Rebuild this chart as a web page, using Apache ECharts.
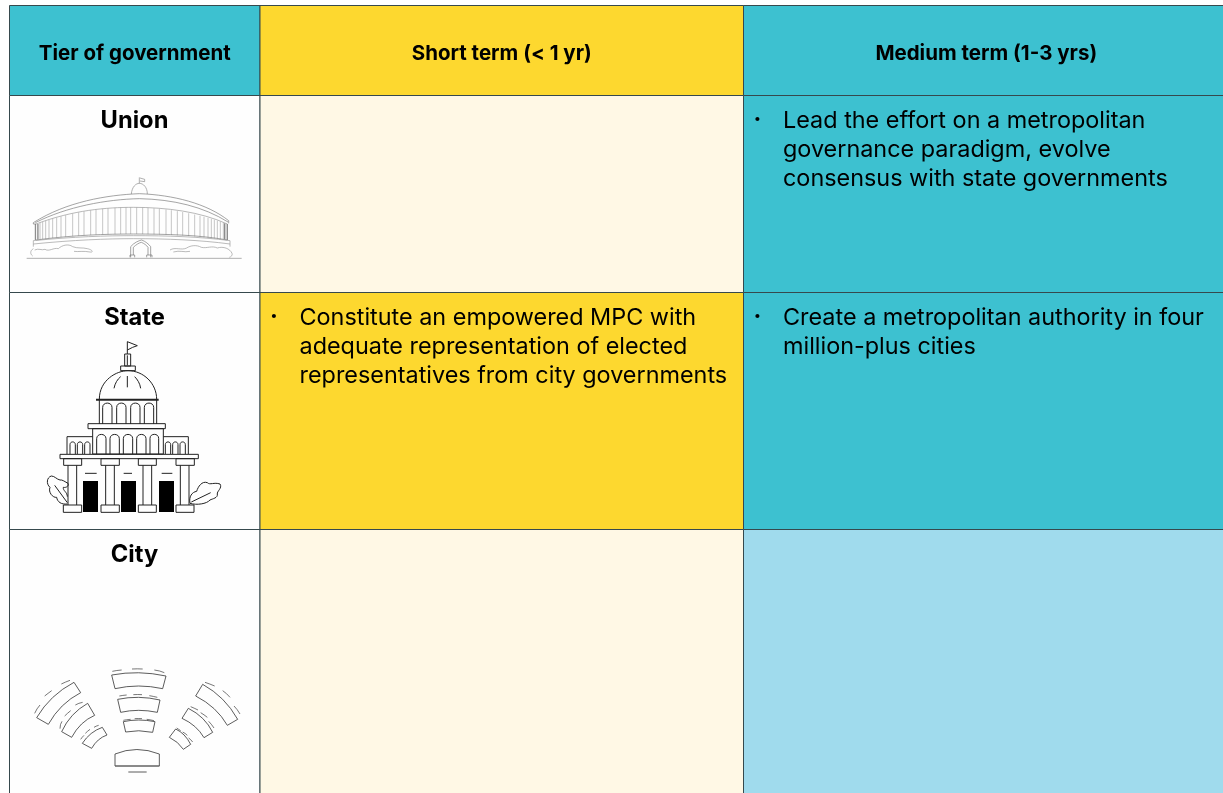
<!DOCTYPE html>
<html><head><meta charset="utf-8">
<style>html,body{margin:0;padding:0;background:#fff}#c{width:1223px;height:793px}</style>
<script src="https://cdn.jsdelivr.net/npm/echarts@6/dist/echarts.min.js"></script>
</head><body><div id="c"></div>
<script>
// ---- content ----
const columnHeads = ['Tier of government', 'Short term (< 1 yr)', 'Medium term (1-3 yrs)'];
const tiers = ['Union', 'State', 'City'];
const shortTerm = [
  [],
  ['Constitute an empowered MPC with', 'adequate representation of elected', 'representatives from city governments'],
  []
];
const mediumTerm = [
  ['Lead the effort on a metropolitan', 'governance paradigm, evolve', 'consensus with state governments'],
  ['Create a metropolitan authority in four', 'million-plus cities'],
  []
];
const shortTermActive = [false, true, false];
const mediumTermShade = ['strong', 'strong', 'light'];

// ---- layout & style ----
const W = 1223, H = 793;
const colEdges = [9.5, 260, 743.5, 1240];
const rowEdges = [5.5, 95.5, 292.5, 529.5, 810];
const FONT = 'Inter, Lato, sans-serif';
const TEAL = '#3dc1d0', YELLOW = '#fdd82f', PALE = '#fff8e5', LIGHT = '#a0dbed', WHITE = '#fefefe', INK = '#000', EDGE = '#36494d';

const cells = [];
columnHeads.forEach((t, c) => cells.push({c, r: 0, fill: c === 1 ? YELLOW : TEAL}));
tiers.forEach((t, r) => {
  cells.push({c: 0, r: r + 1, fill: WHITE});
  cells.push({c: 1, r: r + 1, fill: shortTermActive[r] ? YELLOW : PALE});
  cells.push({c: 2, r: r + 1, fill: mediumTermShade[r] === 'strong' ? TEAL : LIGHT});
});

const texts = [];
columnHeads.forEach((t, c) => texts.push({kind: 'head', c, r: 0, t}));
tiers.forEach((t, r) => texts.push({kind: 'tier', c: 0, r: r + 1, t}));
[shortTerm, mediumTerm].forEach((col, ci) => col.forEach((lines, r) => {
  if (!lines.length) return;
  texts.push({kind: 'bullet', c: ci + 1, r: r + 1, t: '•'});
  lines.forEach((t, i) => texts.push({kind: 'body', c: ci + 1, r: r + 1, i, t}));
}));

function renderCell(params, api) {
  const d = cells[params.dataIndex];
  const a = api.coord([colEdges[d.c], rowEdges[d.r]]);
  const b = api.coord([colEdges[d.c + 1], rowEdges[d.r + 1]]);
  return {type: 'rect', shape: {x: a[0], y: a[1], width: b[0] - a[0], height: b[1] - a[1]},
    style: {fill: d.fill, stroke: EDGE, lineWidth: 1}};
}
function renderText(params, api) {
  const d = texts[params.dataIndex];
  const x0 = colEdges[d.c], x1 = colEdges[d.c + 1 > 2 ? 3 : d.c + 1], y0 = rowEdges[d.r];
  let px, py, st;
  if (d.kind === 'head') {
    const right = d.c === 2 ? 1229 : x1;
    px = (x0 + right) / 2; py = 54;
    st = {font: '700 20.5px ' + FONT, textAlign: 'center', textVerticalAlign: 'middle'};
  } else if (d.kind === 'tier') {
    px = 134.5; py = y0 + 25.5;
    st = {font: '700 23.7px ' + FONT, textAlign: 'center', textVerticalAlign: 'middle'};
  } else if (d.kind === 'bullet') {
    px = x0 + 14; py = y0 + 24;
    st = {font: '400 13px ' + FONT, textAlign: 'center', textVerticalAlign: 'middle'};
  } else {
    px = x0 + 39.5; py = y0 + 25.5 + d.i * 29;
    st = {font: '400 23.4px ' + FONT, textAlign: 'left', textVerticalAlign: 'middle'};
  }
  const p = api.coord([px, py]);
  return {type: 'text', style: Object.assign({x: p[0], y: p[1], text: d.t, fill: INK}, st)};
}

// ---- icons, drawn in 1/3-pixel units, as zoomed from the picture ----
function icon(x, y, paths) { return {type: 'group', x, y, scaleX: 1 / 3, scaleY: 1 / 3, silent: true, children: paths}; }
const rect = (a, b, c, d) => `M${a} ${b}H${c}V${d}H${a}Z`;
const arch = (a, top, c, bottom) => `M${a} ${bottom}V${top + (c - a) / 2}C${a} ${top - 3} ${c} ${top - 3} ${c} ${top + (c - a) / 2}V${bottom}`;
const line = (d, stroke, lw, fill) => ({type: 'path', shape: {pathData: d}, style: {stroke, lineWidth: lw, fill: fill || 'none'}});

// Union: parliament rotunda
let colonnade = '';
[112,120,128,137,147,158,170,183,197,218,236,252,272,288,308,324,345,362,378,392,410,428,444,462,478,498,514,532,548,566,584,600,612,624,634,643,652,661,670,678].forEach(x => {
  const k = (x - 395) / 287;
  colonnade += `M${x} ${322 + 50 * k * k}V${402 + 18 * k * k}`;
});
const unionIcon = icon(0, 100, [
  line('M80 475H725', '#888', 2),
  line('M394 282C396 260 408 250 418 250C430 250 442 262 442 282M418 250V232M420 234L434 238V245L420 243', '#888', 2),
  line('M100 368C200 305 320 285 418 281C520 285 620 310 686 362M100 368V372H108M686 362V370M106 368C200 320 320 298 418 296C520 298 610 320 684 366', '#777', 2),
  line('M108 372C220 330 320 322 400 322C500 322 600 335 682 372', '#888', 1.8),
  line(colonnade, '#a0a0a0', 1.8),
  line('M106 372V420M682 372V420M114 372V418M674 370V418', '#777', 3),
  line('M108 420C220 405 320 402 400 402C500 402 600 405 682 420', '#777', 2),
  line('M100 422C220 410 320 407 400 407C500 407 600 410 690 422M100 422V440M690 422V440M100 432C220 420 320 416 400 416C500 416 600 420 690 432', '#999', 2),
  line('M392 472V440C402 428 416 422 425 420C436 424 446 432 452 440V472M400 465V442C408 434 418 428 424 427C432 430 440 436 444 442V465M390 472V465H404V472M440 472V465H456V472', '#777', 2),
  line('M100 446C90 452 90 462 98 468M104 450C115 444 125 452 135 448C148 456 160 442 175 446C185 436 205 430 218 440C232 446 248 442 262 446C280 450 280 458 270 456C250 452 235 456 222 454', '#999', 2),
  line('M510 450C525 440 545 452 560 444C572 436 590 434 604 442C620 446 636 436 652 444C670 438 690 446 696 460C698 466 694 470 688 472M520 456C540 450 552 458 570 454', '#999', 2),
]);

// State: domed capitol
const A = '#222';
const stateIcon = icon(20, 330, [
  line('M322 72V35L352 47L338 52L322 60', A, 3),
  line(rect(314, 72, 332, 108) + 'M322 76V106', A, 3),
  line(rect(302, 108, 346, 122), A, 3),
  line('M238 208C238 150 290 122 324 122C370 122 410 160 410 208', A, 3),
  line('M322 138V172M282 175C285 160 292 148 302 140M362 175C360 160 352 148 344 140', A, 3),
  line('M228 209H416', A, 6),
  line('M238 210V282M410 210V282', A, 3),
  line(arch(248, 218, 276, 282) + arch(290, 218, 318, 282) + arch(332, 218, 360, 282) + arch(373, 218, 401, 282), A, 3),
  line(rect(204, 281, 436, 296), A, 3),
  line(rect(218, 296, 430, 372), A, 3),
  line(arch(230, 312, 258, 372) + arch(270, 312, 298, 372) + arch(310, 312, 338, 372) + arch(350, 312, 378, 372) + arch(390, 312, 416, 372), A, 3),
  line('M218 320H141V372M430 320H505V372', A, 3),
  line(arch(150, 336, 166, 372) + arch(172, 336, 188, 372) + arch(194, 336, 210, 372) + arch(436, 336, 452, 372) + arch(458, 336, 474, 372) + arch(480, 336, 496, 372), A, 3),
  line(rect(120, 373, 535, 386), A, 3),
  line(rect(131, 386, 185, 406) + rect(243, 386, 298, 406) + rect(355, 386, 409, 406) + rect(468, 386, 523, 406), A, 3),
  line('M144 406V525M170 406V525M257 406V525M283 406V525M369 406V525M395 406V525M481 406V525M507 406V525', A, 3),
  line('M130 547V525H185V547M243 547V525H298V547M355 547V525H409V547M468 547V525H522V547M130 547H185M243 547H298M355 547H409M468 547H522', A, 3),
  line('M195 430H230M311 430H336M425 430H457', A, 3),
  {type: 'path', shape: {pathData: rect(189, 453, 234, 546) + rect(303, 453, 348, 546) + rect(417, 453, 462, 546)}, style: {fill: '#000'}},
  line('M142 522C124 524 112 516 110 502C98 504 84 486 90 472C78 462 80 442 94 438C104 438 110 448 120 450C126 448 136 456 144 460C148 468 138 474 130 472C128 482 142 486 142 500M104 466L142 518', A, 3),
  line('M510 520C506 500 516 486 530 484C534 470 546 452 562 458C570 466 582 456 600 462C608 474 590 484 592 492C594 504 578 506 570 510C560 522 530 526 510 520M514 516L572 488', A, 3),
]);

// City: council chamber seating
const G = '#333';
const cityIcon = icon(20, 650, [
  line('M275 75Q355 60 438 78L428 116Q355 100 285 116Z', G, 2.4),
  line('M293 148Q355 135 420 150L412 187Q355 175 302 187Z', G, 2.4),
  line('M310 215Q355 205 405 215L398 247Q355 238 317 246Z', G, 2.4),
  line('M285 312Q350 285 418 312V348H285Z', G, 2.4),
  line('M285 348H418', '#666', 3),
  line('M325 366H380', G, 2.4),
  line('M277 64Q290 61 305 60M336 57Q352 56 368 57M403 60Q420 62 433 68', G, 2),
  line('M298 138Q308 136 320 135M340 134Q352 133 366 134M388 137Q400 139 412 142', G, 2),
  line('M310 211Q318 209 332 208M344 206Q355 205 366 206M380 208Q390 209 402 212', G, 2),
  line('M162 97L182 128Q120 160 85 223L50 203Q90 135 162 97Z', G, 2.4),
  line('M203 160L224 196Q180 215 155 262L125 245Q150 190 203 160Z', G, 2.4),
  line('M247 232L261 255Q232 265 215 295L187 280Q210 245 247 232Z', G, 2.4),
  line('M548 103L527 138Q590 170 622 226L653 208Q615 140 548 103Z', G, 2.4),
  line('M505 175L486 205Q530 225 552 263L578 247Q555 200 505 175Z', G, 2.4),
  line('M467 237L448 262Q475 275 490 298L512 283Q495 250 467 237Z', G, 2.4),
  line('M124 102Q136 96 150 91M74 138Q84 130 95 122M44 190Q50 176 60 165', G, 2),
  line('M166 165Q176 159 188 157M134 198Q142 190 152 182M120 236Q120 222 126 214', G, 2),
  line('M222 232Q228 228 236 226M196 250Q202 244 210 238M182 268Q186 262 192 256', G, 2),
  line('M555 97Q570 102 584 108M608 122Q620 130 630 142M642 168Q652 178 660 192', G, 2),
  line('M512 170Q522 174 534 180M542 188Q552 194 562 202M566 214Q574 222 582 234', G, 2),
  line('M470 234Q476 238 482 242M488 246Q496 250 502 256M506 264Q512 268 518 276', G, 2),
]);
const icons = [unionIcon, stateIcon, cityIcon];

const chart = echarts.init(document.getElementById('c'), null, {renderer: 'canvas'});
chart.setOption({
  animation: false,
  backgroundColor: '#fff',
  grid: {left: 0, right: 0, top: 0, bottom: 0},
  xAxis: {type: 'value', min: 0, max: W, show: false},
  yAxis: {type: 'value', min: 0, max: H, inverse: true, show: false},
  series: [
    {type: 'custom', coordinateSystem: 'cartesian2d', renderItem: renderCell, data: cells.map((d, i) => [i]), encode: {x: 0}, silent: true, clip: true, z: 1},
    {type: 'custom', coordinateSystem: 'cartesian2d', renderItem: renderText, data: texts.map((d, i) => [i]), encode: {x: 0}, silent: true, z: 2},
    {type: 'custom', coordinateSystem: 'cartesian2d', renderItem: (p) => icons[p.dataIndex], data: icons.map((d, i) => [i]), encode: {x: 0}, silent: true, z: 3}
  ]
});
</script></body></html>
